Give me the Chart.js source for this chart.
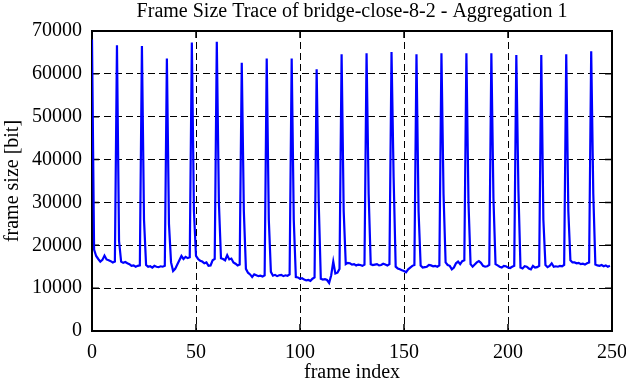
<!DOCTYPE html>
<html>
<head>
<meta charset="utf-8">
<title>Frame Size Trace</title>
<script src="https://cdn.jsdelivr.net/npm/chart.js@4.4.1/dist/chart.umd.min.js"></script>
<style>
    html, body { margin: 0; padding: 0; background: #fff; }
    #wrap { width: 626px; height: 382px; }
</style>
</head>
<body>
<div id="wrap"><canvas id="trace-chart" width="626" height="382"></canvas></div>
<script>
// Tailles de trame en bits, une ligne par GOP de 12 images
const frameSizes = [
    68000, 19000, 17500, 16800, 16200, 16600, 17600, 16700, 16500, 16300, 16000, 16200,
    66700, 21000, 16200, 15900, 16100, 15800, 15600, 15200, 15300, 15000, 15200, 15300,
    66500, 26000, 15400, 15000, 15100, 14800, 15200, 15000, 14900, 15100, 15000, 15200,
    63600, 25000, 16000, 14000, 14500, 15500, 16500, 17500, 16800, 17300, 17000, 17200,
    67300, 28000, 17500, 16800, 16400, 16200, 15800, 16000, 15200, 15300, 16500, 16800,
    67500, 30000, 17000, 16800, 16500, 17700, 16700, 16900, 16000, 15700, 15300, 15500,
    62600, 28000, 14500, 13600, 13200, 12600, 13200, 13000, 12800, 12900, 12700, 13000,
    63600, 26000, 13800, 12900, 13100, 12800, 13000, 13100, 12800, 13000, 12900, 13200,
    63600, 26000, 12600, 12500, 12200, 12300, 12000, 11800, 11900, 11700, 12200, 12500,
    61100, 30000, 12200, 12000, 12100, 11900, 11200, 13000, 16200, 13400, 13600, 14500,
    64600, 28000, 15600, 15900, 15800, 15500, 15600, 15300, 15500, 15400, 15200, 15500,
    64800, 32000, 15600, 15400, 15500, 15600, 15300, 15400, 15700, 15500, 15300, 15600,
    65100, 36000, 15000, 14600, 14400, 14200, 14000, 13700, 14400, 14800, 15200, 15400,
    64600, 28000, 15300, 14800, 14900, 15000, 15400, 15300, 15100, 15200, 15000, 15300,
    64800, 32000, 16000, 15400, 15200, 14400, 14800, 15800, 16200, 15600, 16300, 16500,
    64800, 30000, 15600, 15000, 15500, 16000, 16300, 15900, 15200, 15000, 15100, 15400,
    64800, 31000, 15600, 15300, 15000, 14800, 15200, 15100, 14800, 14700, 15000, 15200,
    64400, 33000, 14800, 14600, 15100, 15000, 14600, 14400, 15200, 14800, 14900, 15200,
    64400, 26000, 15400, 14900, 15200, 15800, 15000, 15100, 15000, 15200, 15100, 15400,
    64600, 28000, 16500, 16000, 16000, 15800, 15900, 15600, 15700, 15500, 15800, 16000,
    65300, 32000, 15500, 15300, 15200, 15400, 15100, 15300, 15000, 15200
];
const xTicks = [0, 50, 100, 150, 200, 250];
const yTicks = [0, 10000, 20000, 30000, 40000, 50000, 60000, 70000];

const chartTitle = "Frame Size Trace of bridge-close-8-2 - Aggregation 1";
const xTitle = "frame index";
const yTitle = "frame size [bit]";

const serif = "'Liberation Serif', 'DejaVu Serif', serif";

// Cadre noir et petites graduations intérieures sur les quatre côtés
const cadrePlugin = {
    id: 'cadre',
    beforeDatasetsDraw(chart) {
        const { ctx, chartArea: a, scales } = chart;
        const len = 7;
        ctx.save();
        ctx.strokeStyle = '#000';
        ctx.lineWidth = 1.5;
        ctx.beginPath();
        yTicks.forEach((v) => {
            const y = scales.y.getPixelForValue(v);
            ctx.moveTo(a.left, y);
            ctx.lineTo(a.left + len, y);
            ctx.moveTo(a.right, y);
            ctx.lineTo(a.right - len, y);
        });
        xTicks.forEach((v) => {
            const x = scales.x.getPixelForValue(v);
            ctx.moveTo(x, a.top);
            ctx.lineTo(x, a.top + len);
            ctx.moveTo(x, a.bottom);
            ctx.lineTo(x, a.bottom - len);
        });
        ctx.stroke();
        ctx.lineWidth = 2;
        ctx.strokeRect(a.left, a.top, a.right - a.left, a.bottom - a.top);
        ctx.restore();
    }
};

const ctx = document.getElementById('trace-chart').getContext('2d');

new Chart(ctx, {
    type: 'line',
    data: {
        datasets: [{
            data: frameSizes.map((v, i) => ({ x: i, y: v })),
            borderColor: '#0000ff',
            borderWidth: 2.2,
            pointRadius: 0,
            tension: 0,
            fill: false,
        }],
    },
    options: {
        responsive: false,
        animation: false,
        devicePixelRatio: 1,
        layout: {
            padding: { left: 0, right: 14, top: 0, bottom: 0 },
        },
        plugins: {
            legend: { display: false },
            tooltip: { enabled: false },
            title: {
                display: true,
                text: chartTitle,
                fullSize: false,
                color: '#000',
                font: { family: serif, size: 20, weight: 'normal', lineHeight: 1.2 },
                padding: { top: 0, bottom: 7 },
            },
        },
        scales: {
            x: {
                type: 'linear',
                min: 0,
                max: 250,
                afterBuildTicks: (scale) => {
                    scale.ticks = xTicks.map((v) => ({ value: v }));
                },
                afterFit: (scale) => {
                    scale.height = 51;
                    scale.paddingLeft = 0;
                    scale.paddingRight = 0;
                },
                ticks: {
                    color: '#000',
                    font: { family: serif, size: 20 },
                    padding: 10,
                    maxRotation: 0,
                    callback: (v) => String(v),
                },
                grid: { color: '#000', lineWidth: 1, drawTicks: false },
                border: { color: '#000', width: 1, dash: [7, 4] },
                title: {
                    display: true,
                    text: xTitle,
                    color: '#000',
                    font: { family: serif, size: 20, lineHeight: 0.9 },
                    padding: { top: 0, bottom: 0 },
                },
            },
            y: {
                min: 0,
                max: 70000,
                afterBuildTicks: (scale) => {
                    scale.ticks = yTicks.map((v) => ({ value: v }));
                },
                afterFit: (scale) => {
                    scale.width = 92;
                },
                ticks: {
                    color: '#000',
                    font: { family: serif, size: 20 },
                    padding: 10,
                    callback: (v) => String(v),
                },
                grid: { color: '#000', lineWidth: 1, drawTicks: false },
                border: { color: '#000', width: 1, dash: [7, 4] },
                title: {
                    display: true,
                    text: yTitle,
                    color: '#000',
                    font: { family: serif, size: 20, lineHeight: 1 },
                    padding: { top: 3, bottom: 0 },
                },
            },
        },
    },
    plugins: [cadrePlugin],
});
</script>
</body>
</html>
